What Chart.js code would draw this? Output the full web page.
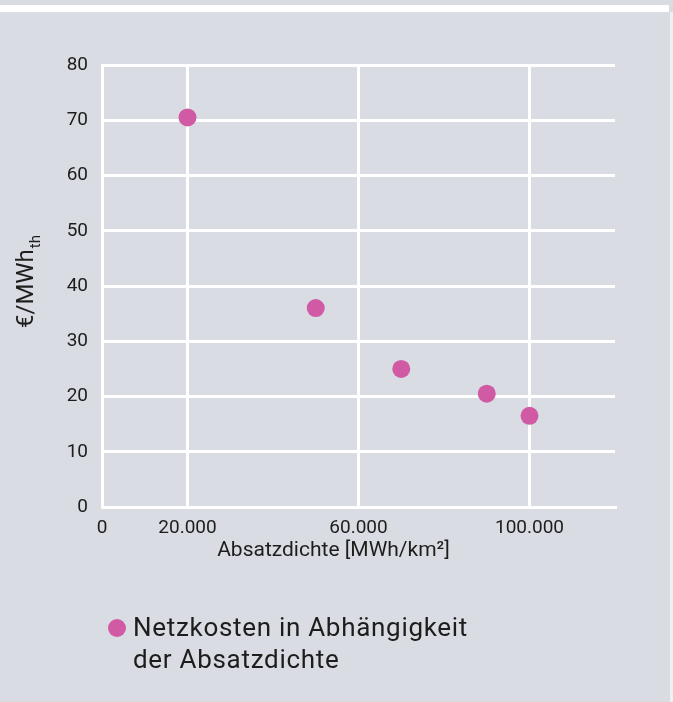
<!DOCTYPE html>
<html>
<head>
<meta charset="utf-8">
<script src="https://cdn.jsdelivr.net/npm/chart.js@4.4.1/dist/chart.umd.min.js"></script>
<style>
  html, body { margin: 0; padding: 0; }
  body { width: 673px; height: 702px; background: #d9dce3; position: relative; overflow: hidden; font-family: Roboto, "Noto Sans", sans-serif; }
  #topband { position: absolute; left: 0; top: 5px; width: 669px; height: 7px; background: #ffffff; }
  #rightband { position: absolute; left: 670px; top: 12px; width: 3px; height: 690px; background: #eef0f3; }
  #wrap { position: absolute; left: 0; top: 0; width: 673px; height: 702px; }
  #legend { position: absolute; left: 108px; top: 611px; color: #1d1d1b; font-size: 26px; line-height: 32px; letter-spacing: 0.7px; }
  #legend .dot { position: absolute; left: 0; top: 8px; width: 18px; height: 18px; border-radius: 50%; }
  #legend .txt { margin-left: 25px; }
</style>
</head>
<body>
<div id="topband"></div>
<div id="rightband"></div>
<div id="wrap"><canvas id="c" width="673" height="702"></canvas></div>
<div id="legend"></div>
<script>
// ---- data ----
const seriesName = ["Netzkosten in Abhängigkeit", "der Absatzdichte"];
const xValues = [20000, 50000, 70000, 90000, 100000];   // Absatzdichte [MWh/km²]
const yValues = [70.5, 36, 25, 20.5, 16.5];             // €/MWh_th
const xTickLabels = [0, 20000, 60000, 100000];          // labels shown on x axis
const yTickLabels = [0, 10, 20, 30, 40, 50, 60, 70, 80];
const xTitle = "Absatzdichte [MWh/km²]";
const yTitleMain = "€/MWh";
const yTitleSub = "th";

const pointColor = "#d05ba4";
const textColor = "#1d1d1b";
const fontFamily = "Roboto, 'Noto Sans', sans-serif";

const points = xValues.map((x, i) => ({ x: x, y: yValues[i] }));

function fmtDE(v) {
  return String(v).replace(/\B(?=(\d{3})+(?!\d))/g, ".");
}

const titlesPlugin = {
  id: 'axisTitles',
  afterDraw(chart) {
    const ctx = chart.ctx;
    const area = chart.chartArea;
    // y title with subscript
    const cy = (area.top + area.bottom) / 2 - 4;
    ctx.save();
    ctx.translate(27, cy);
    ctx.rotate(-Math.PI / 2);
    ctx.fillStyle = textColor;
    ctx.textBaseline = 'middle';
    ctx.font = "24px " + fontFamily;
    const w1 = ctx.measureText(yTitleMain).width;
    ctx.font = "15px " + fontFamily;
    const w2 = ctx.measureText(yTitleSub).width;
    const start = -(w1 + w2) / 2;
    ctx.font = "24px " + fontFamily;
    ctx.textAlign = 'left';
    ctx.fillText(yTitleMain, start, 0);
    ctx.font = "15px " + fontFamily;
    ctx.fillText(yTitleSub, start + w1 + 1, 9);
    ctx.restore();
    // x title
    ctx.save();
    ctx.fillStyle = textColor;
    ctx.textBaseline = 'middle';
    ctx.textAlign = 'center';
    ctx.font = "21px " + fontFamily;
    ctx.fillText(xTitle, (area.left + area.right) / 2 - 25, area.bottom + 44);
    ctx.restore();
  }
};

new Chart(document.getElementById('c'), {
  type: 'scatter',
  data: {
    datasets: [{
      label: seriesName.join(' '),
      data: points,
      backgroundColor: pointColor,
      borderWidth: 0,
      pointRadius: 9,
      pointHoverRadius: 9
    }]
  },
  options: {
    responsive: false,
    animation: false,
    events: [],
    layout: { padding: { left: 0, top: 65, right: 58, bottom: 135 } },
    plugins: {
      legend: { display: false },
      tooltip: { enabled: false }
    },
    scales: {
      x: {
        type: 'linear',
        min: 0,
        max: 120000,
        afterFit: (s) => { s.height = 60; },
        ticks: {
          stepSize: 20000,
          autoSkip: false,
          maxRotation: 0,
          padding: 10,
          color: textColor,
          font: { family: fontFamily, size: 19 },
          callback: (v) => xTickLabels.includes(v) ? fmtDE(v) : null
        },
        grid: { color: '#ffffff', lineWidth: 3, drawTicks: false },
        border: { color: '#ffffff', width: 3 }
      },
      y: {
        min: 0,
        max: 80,
        afterFit: (s) => { s.width = 102; },
        ticks: {
          stepSize: 10,
          padding: 14,
          color: textColor,
          font: { family: fontFamily, size: 19 },
          callback: (v) => yTickLabels.includes(v) ? String(v) : null
        },
        grid: { color: '#ffffff', lineWidth: 3, drawTicks: false },
        border: { color: '#ffffff', width: 3 }
      }
    }
  },
  plugins: [titlesPlugin]
});

// HTML legend (wrapped text like the reference)
const lg = document.getElementById('legend');
lg.innerHTML = '<span class="dot" style="background:' + pointColor + '"></span><div class="txt">' +
  seriesName.map(s => '<div>' + s + '</div>').join('') + '</div>';
</script>
</body>
</html>
